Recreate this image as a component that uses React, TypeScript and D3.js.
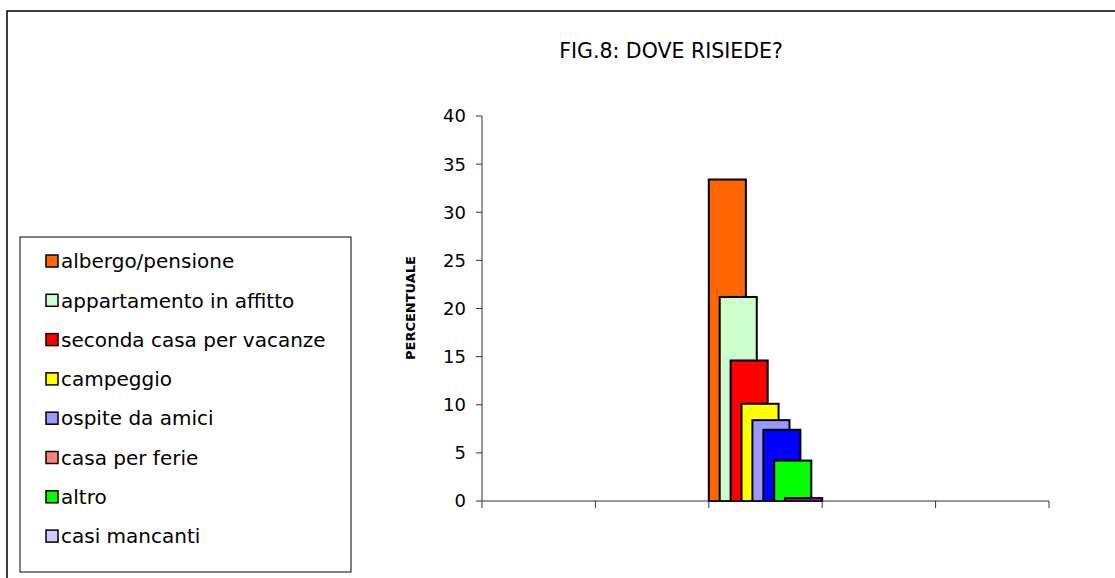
import React from "react";
import * as d3 from "d3";

const categories = ["", "", "dove risiede", "", ""];
const seriesNames = [
  "albergo/pensione",
  "appartamento in affitto",
  "seconda casa per vacanze",
  "campeggio",
  "ospite da amici",
  "casa per ferie",
  "altro",
  "casi mancanti",
];
const seriesValues = [33.4, 21.2, 14.6, 10.1, 8.4, 7.4, 4.2, 0.3];
const barColors = ["#FF6600", "#CCFFCC", "#FF0000", "#FFFF00", "#9999FF", "#0000FF", "#00FF00", "#CC00CC"];
const legendColors = ["#FF6600", "#CCFFCC", "#FF0000", "#FFFF00", "#9999FF", "#FF8080", "#00FF00", "#CCCCFF"];
const yTicks = [0, 5, 10, 15, 20, 25, 30, 35, 40];
const dataCategoryIndex = 2;

const FONT = "'DejaVu Sans', Verdana, sans-serif";

export default function App() {
  const W = 1115;
  const H = 578;
  const plotLeft = 482;
  const plotRight = 1049;
  const plotTop = 116;
  const plotBottom = 501;

  const y = d3.scaleLinear().domain([0, 40]).range([plotBottom, plotTop]);
  const x = d3
    .scaleBand<number>()
    .domain(categories.map((_, i) => i))
    .range([plotLeft, plotRight])
    .paddingInner(0)
    .paddingOuter(0);

  const band = x.bandwidth();
  const n = seriesValues.length;
  const ratio = 3.4; // bar width relative to step (overlapping bars)
  const step = band / (n - 1 + ratio);
  const barW = step * ratio;
  const catX = x(dataCategoryIndex)!;

  const tickXs = categories.map((_, i) => x(i)!).concat([plotRight]);

  const legendX = 20;
  const legendY = 237;
  const legendW = 331;
  const legendH = 335;
  const rowStart = 261;
  const rowStep = 39.3;

  return (
    <svg width={W} height={H} style={{ position: "absolute", left: 0, top: 0 }}>
      <rect x={0} y={0} width={W} height={H} fill="#fff" />
      <rect x={7} y={11} width={W + 20} height={H + 20} fill="none" stroke="#000" strokeWidth={1.5} />
      <text x={671} y={58} textAnchor="middle" fontFamily={FONT} fontSize={20.5} fill="#000">
        FIG.8: DOVE RISIEDE?
      </text>

      {/* bars */}
      {seriesValues.map((v, i) => (
        <rect
          key={i}
          x={catX + i * step}
          y={y(v)}
          width={barW}
          height={y(0) - y(v)}
          fill={barColors[i]}
          stroke="#000"
          strokeWidth={2}
        />
      ))}

      {/* y axis */}
      <line x1={plotLeft} y1={plotTop} x2={plotLeft} y2={plotBottom} stroke="#333" strokeWidth={1} />
      {yTicks.map((t) => (
        <g key={t}>
          <line x1={plotLeft - 6} x2={plotLeft} y1={y(t)} y2={y(t)} stroke="#333" strokeWidth={1} />
          <text
            x={plotLeft - 16}
            y={y(t)}
            dy="0.36em"
            textAnchor="end"
            fontFamily={FONT}
            fontSize={18}
            fill="#000"
          >
            {t}
          </text>
        </g>
      ))}

      {/* x axis */}
      <line x1={plotLeft} y1={plotBottom} x2={plotRight} y2={plotBottom} stroke="#333" strokeWidth={1} />
      {tickXs.map((tx, i) => (
        <line key={i} x1={tx} x2={tx} y1={plotBottom} y2={plotBottom + 7} stroke="#333" strokeWidth={1} />
      ))}

      <text
        transform={`translate(410, 308) rotate(-90)`}
        textAnchor="middle"
        dy="0.35em"
        fontFamily={FONT}
        fontWeight="bold"
        fontSize={13}
        fill="#000"
      >
        PERCENTUALE
      </text>

      {/* legend */}
      <rect x={legendX} y={legendY} width={legendW} height={legendH} fill="#fff" stroke="#000" strokeWidth={1} />
      {seriesNames.map((name, i) => {
        const cy = rowStart + i * rowStep;
        return (
          <g key={name}>
            <rect x={46} y={cy - 6} width={12} height={12} fill={legendColors[i]} stroke="#000" strokeWidth={1.5} />
            <text x={61} y={cy} dy="0.36em" fontFamily={FONT} fontSize={20} fill="#000">
              {name}
            </text>
          </g>
        );
      })}
    </svg>
  );
}
